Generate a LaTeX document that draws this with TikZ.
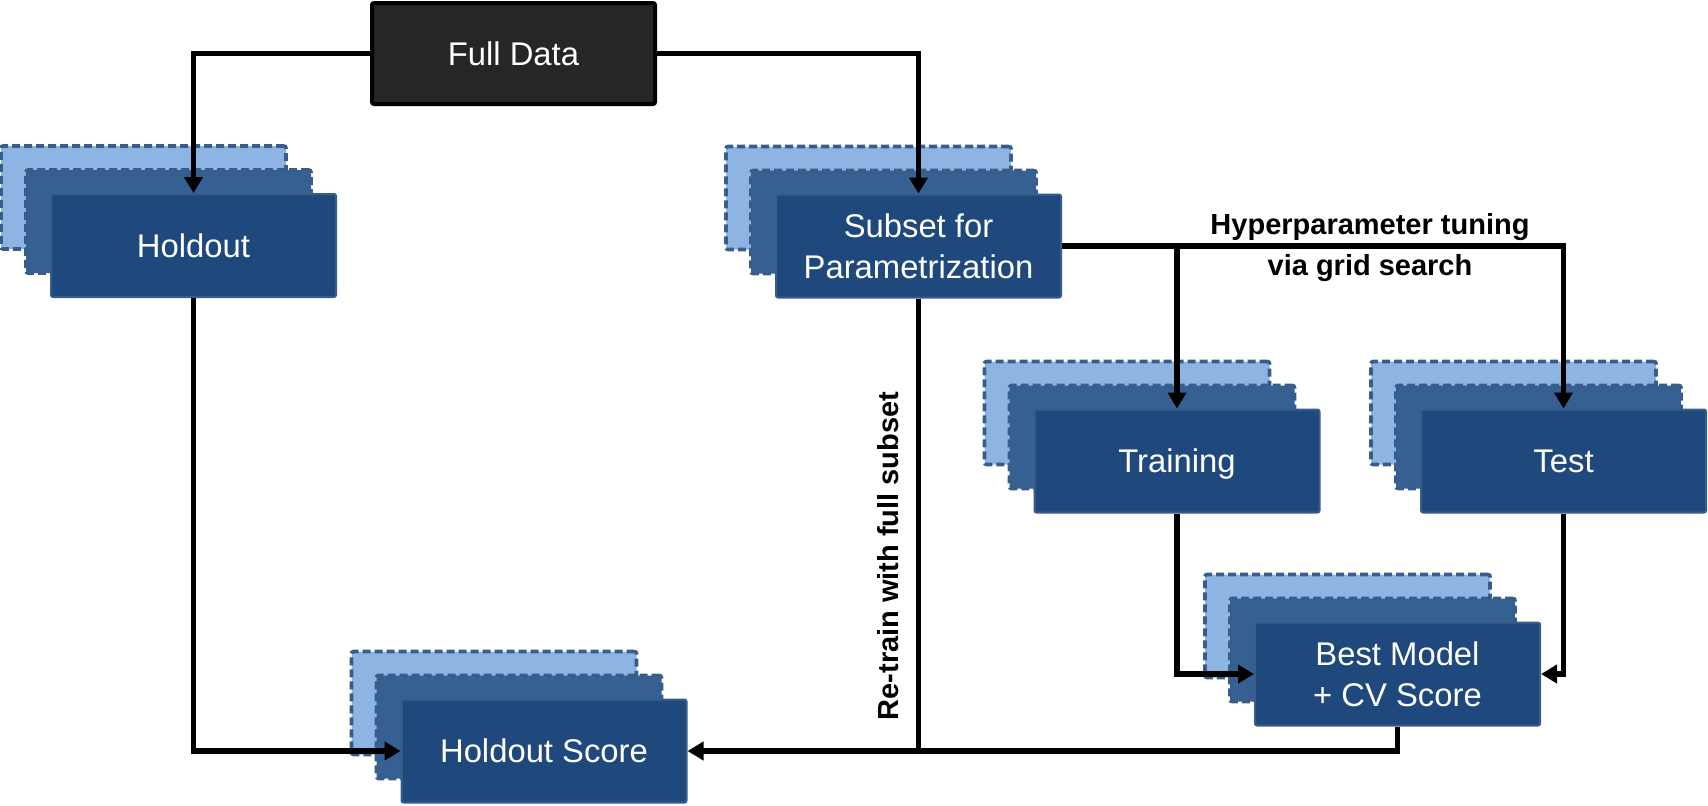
\documentclass[tikz,border=0pt]{standalone}
\usepackage{fontspec}
\setmainfont{Liberation Sans}
\usepackage{tikz}
\usetikzlibrary{arrows.meta,positioning}

\definecolor{boxfront}{HTML}{1F497D}
\definecolor{boxmid}{HTML}{376092}
\definecolor{boxback}{HTML}{8DB4E2}
\definecolor{boxedge}{HTML}{385D8A}
\definecolor{datafill}{HTML}{262626}

\tikzset{
  layer/.style={rounded corners=1pt, minimum width=142.5pt, minimum height=51.5pt, inner sep=0pt},
  frontbox/.style={layer, draw=boxedge, fill=boxfront, line width=1pt, text=white, align=center,
    text depth=0pt, font=\fontsize{16.4}{20.5}\selectfont},
  midbox/.style={layer, draw=boxedge, fill=boxmid, line width=1.8pt, dash pattern=on 4pt off 2pt},
  backbox/.style={layer, draw=boxedge, fill=boxback, line width=1.8pt, dash pattern=on 4pt off 2pt},
  databox/.style={draw=black, fill=datafill, line width=2pt, rounded corners=1pt, text=white,
    minimum width=141.5pt, minimum height=50.5pt, font=\fontsize{16.4}{20.5}\selectfont},
  link/.style={line width=2.6pt},
  flow/.style={link, -{Triangle[length=8pt,width=9pt]}},
  note/.style={font=\fontsize{14.5}{20.5}\selectfont\bfseries, align=center, inner sep=0pt}
}

% three stacked layers: name, x, y, text
\newcommand{\stacked}[4]{%
  \node[backbox] (#1-back) at (#2-50,#3-48) {};
  \node[midbox] (#1-mid) at (#2-25,#3-24) {};
  \node[frontbox] (#1) at (#2,#3) {#4};}

\begin{document}
\begin{tikzpicture}[x=0.5pt,y=-0.5pt]
  \useasboundingbox (0,0) rectangle (1708,805);

  % Source
  \node[databox] (full) at (513.5,53.5) {Full Data};

  % Stacked data sets
  \stacked{hold}{193.5}{245.5}{Holdout}
  \stacked{sub}{918.5}{246}{Subset for\\Parametrization}
  \stacked{train}{1177}{461}{Training}
  \stacked{test}{1563.5}{461}{Test}
  \stacked{best}{1397.5}{674}{Best Model\\+ CV Score}
  \stacked{score}{544}{751}{Holdout Score}

  % Split of the full data
  \draw[flow] (full.west) -| (hold.north);
  \draw[flow] (full.east) -| (sub.north);

  % Grid search
  \draw[flow] (sub.east) -| (test.north);
  \coordinate (split) at (train.north |- sub.east);
  \draw[flow] (split) -- (train.north);
  \draw[flow] (train.south) |- (best.west);
  \draw[flow] (test.south) |- (best.east);

  % Scoring on the holdout
  \draw[flow] (hold.south) |- (score.west);
  \draw[flow] (sub.south) |- (score.east);
  \coordinate (merge) at (sub.south |- score.east);
  \draw[link] (best.south) |- (merge);

  % Labels
  \node[note] (tune) at (1370,248) {Hyperparameter tuning\\via grid search};
  \node[note, rotate=90] (retrain) at (888.5,556) {Re-train with full subset};
\end{tikzpicture}
\end{document}
